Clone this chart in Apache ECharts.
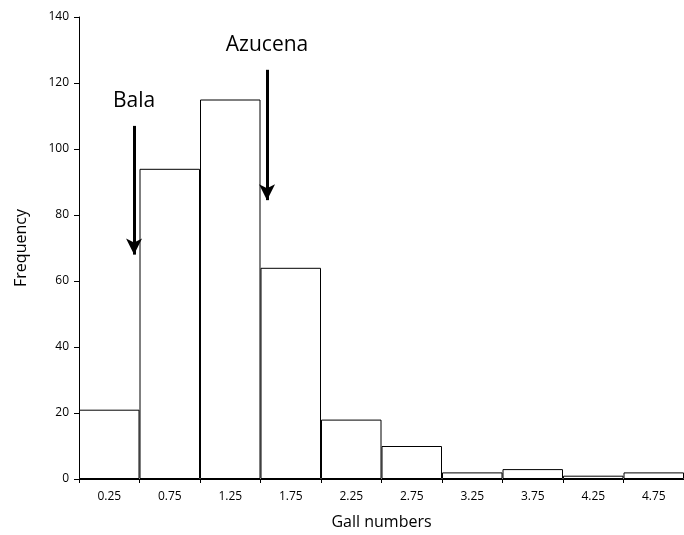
<!DOCTYPE html>
<html><head><meta charset="utf-8">
<script src="https://cdn.jsdelivr.net/npm/echarts@6/dist/echarts.min.js"></script>
<style>html,body{margin:0;padding:0;background:#fff}#c{width:684px;height:535px}</style>
</head><body><div id="c"></div>
<script>
const categories = ['0.25','0.75','1.25','1.75','2.25','2.75','3.25','3.75','4.25','4.75'];
const frequency = [21, 94, 115, 64, 18, 10, 2, 3, 1, 2];
const arrowNames = ['Bala', 'Azucena'];
const arrowX = [0.455, 1.554];
const arrowTop = [107, 124];
const arrowTip = [68, 84.5];
const font = 'Open Sans';
const chart = echarts.init(document.getElementById('c'));
chart.setOption({
  animation: false,
  textStyle: {fontFamily: font},
  grid: {left: 79, right: 0, top: 17, bottom: 56},
  xAxis: [{
    type: 'category', data: categories,
    name: 'Gall numbers', nameLocation: 'middle', nameGap: 35,
    nameTextStyle: {fontSize: 16, color: '#000', fontFamily: font},
    axisLine: {lineStyle: {color: '#000'}},
    axisTick: {show: true, length: 4, lineStyle: {color: '#000'}},
    axisLabel: {color: '#000', fontSize: 12, margin: 12}
  }, {
    type: 'value', min: 0, max: 5, show: false
  }],
  yAxis: {
    type: 'value', min: 0, max: 140, interval: 20,
    name: 'Frequency', nameLocation: 'middle', nameGap: 50, nameRotate: 90,
    nameTextStyle: {fontSize: 16, color: '#000', fontFamily: font},
    axisLine: {show: true, lineStyle: {color: '#000'}},
    axisTick: {show: true, length: 5, lineStyle: {color: '#000'}},
    axisLabel: {color: '#000', fontSize: 12, margin: 10},
    splitLine: {show: false}
  },
  series: [{
    type: 'bar', data: frequency, barCategoryGap: 0,
    itemStyle: {color: '#fff', borderColor: '#000', borderWidth: 1}
  }, {
    type: 'line', xAxisIndex: 1, data: [], symbol: 'none',
    markLine: {
      silent: true, symbol: ['none', 'arrow'], symbolSize: [12, 16],
      lineStyle: {color: '#000', width: 3, type: 'solid'},
      label: {show: true, position: 'start', distance: 14, formatter: '{b}', color: '#000', fontSize: 21, fontFamily: font},
      data: arrowNames.map((n, i) => [
        {name: n, coord: [arrowX[i], arrowTop[i]]},
        {coord: [arrowX[i], arrowTip[i]]}
      ])
    }
  }]
});
</script></body></html>
